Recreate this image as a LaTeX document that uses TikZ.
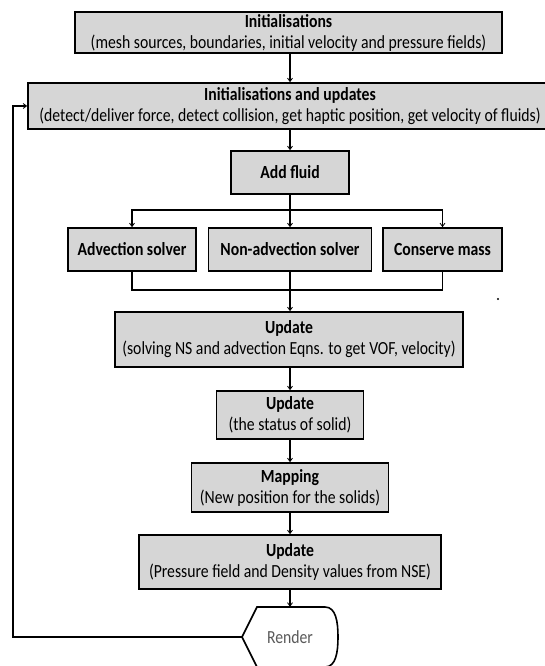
\documentclass[tikz,border=0pt]{standalone}
\usepackage{fontspec}
\setmainfont[FakeStretch=0.85]{Carlito}
\usetikzlibrary{arrows.meta,calc}
\definecolor{boxgray}{RGB}{214,214,214}
\definecolor{rendertxt}{RGB}{90,90,90}
\begin{document}
\begin{tikzpicture}[x=1pt,y=-1pt,
  box/.style={draw=black, line width=1.6pt, fill=boxgray, inner sep=0pt, align=center,
     font=\fontsize{18.5}{21}\selectfont},
  conn/.style={line width=1.3pt},
  arr/.style={line width=1.3pt, -{Straight Barb[length=3.5pt,width=5pt,line width=0.8pt]}},
  fb/.style={line width=1.8pt, -{Straight Barb[length=3.5pt,width=5pt,line width=0.8pt]}}]
\useasboundingbox (0,0) rectangle (544,666);
\fill[white] (0,0) rectangle (544,666);
\node[box, minimum width=427pt, minimum height=41pt] (init) at (288.5,32.5)
  {\textbf{Initialisations}\\(mesh sources, boundaries, initial velocity and pressure fields)};
\node[box, minimum width=524pt, minimum height=46pt] (initupd) at (290,106)
  {\textbf{Initialisations and updates}\\(detect/deliver force, detect collision, get haptic position, get velocity of fluids)};
\node[box, minimum width=118pt, minimum height=43pt] (add) at (290,172.5) {\textbf{Add fluid}};
\node[box, minimum width=128pt, minimum height=43pt] (adv) at (132,249.5) {\textbf{Advection solver}};
\node[box, minimum width=163pt, minimum height=43pt] (nonadv) at (290,249.5) {\textbf{Non-advection solver}};
\node[box, minimum width=119pt, minimum height=43pt] (cons) at (442.5,249.5) {\textbf{Conserve mass}};
\node[box, minimum width=348pt, minimum height=55pt] (upd1) at (289,339.5)
  {\textbf{Update}\\(solving NS and advection Eqns. to get VOF, velocity)};
\node[box, minimum width=147pt, minimum height=48pt] (upd2) at (290,415)
  {\textbf{Update}\\(the status of solid)};
\node[box, minimum width=197pt, minimum height=49pt] (map) at (290,487.5)
  {\textbf{Mapping}\\(New position for the solids)};
\node[box, minimum width=302pt, minimum height=54pt] (upd3) at (290,562)
  {\textbf{Update}\\(Pressure field and Density values from NSE)};
% Render display shape
\node[inner sep=0pt, minimum width=96pt, minimum height=60pt] (render) at (290,637) {};
\draw[line width=1.6pt, fill=white] (257,607) -- (325,607)
  .. controls (336,607) and (338,622) .. (338,637)
  .. controls (338,652) and (336,667) .. (325,667) -- (257,667) -- (242,637) -- cycle;
\node[text=rendertxt, font=\fontsize{18.5}{21}\selectfont] (rendertext) at (render.center) {Render};
\coordinate (rl) at (242,637);
% connectors
\draw[arr] (initupd.north |- init.south) -- (initupd.north);
\draw[arr] (initupd.south) -- (add.north);
\coordinate (sp) at (290,210);
\draw[conn] (add.south) -- (sp);
\draw[arr] (sp) -| (adv.north);
\draw[arr] (sp) -| (cons.north);
\draw[arr] (sp) -- (nonadv.north);
\coordinate (mg) at (290,290);
\draw[conn] (adv.south) |- (mg);
\draw[conn] (cons.south) |- (mg);
\draw[conn] (nonadv.south) -- (mg);
\draw[arr] (mg) -- (upd1.north -| mg);
\draw[arr] (upd1.south -| upd2.north) -- (upd2.north);
\draw[arr] (upd2.south) -- (map.north);
\draw[arr] (map.south) -- (upd3.north);
\draw[arr] (upd3.south) -- (render.north);
\coordinate (fbb) at (13,637);
\coordinate (fbt) at (13,106);
\draw[fb] (rl) -- (fbb) -- (fbt) -- (initupd.west);
\node[circle, fill=black, inner sep=0pt, minimum size=2.2pt] (dot) at (498,299) {};
\end{tikzpicture}
\end{document}
